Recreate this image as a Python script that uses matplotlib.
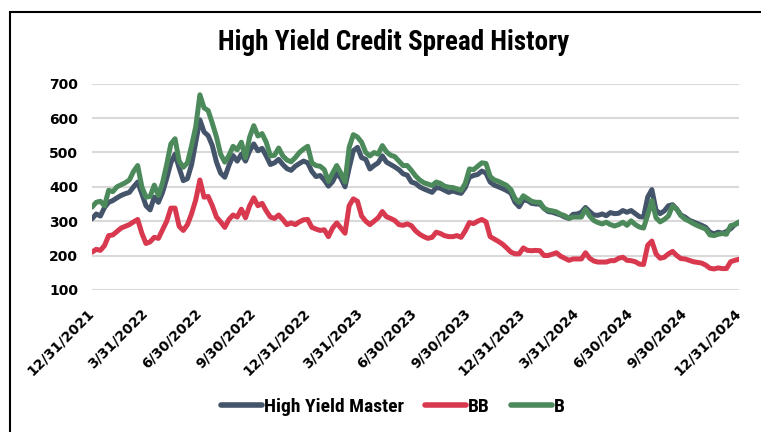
import numpy as np
import pandas as pd
import matplotlib
matplotlib.use("Agg")
import matplotlib.pyplot as plt
from matplotlib.patches import Rectangle

# weekly spread levels (bps), 12/31/2021 -> 12/31/2024
hy_master = [
    307, 321, 315, 340, 355, 360, 368, 375, 380, 384, 400, 414, 380,
    345, 333, 370, 355, 384, 425, 470, 495, 455, 418, 424, 465, 530,
    595, 560, 549, 520, 472, 440, 428, 462, 491, 475, 495, 475, 505,
    525, 505, 512, 490, 465, 470, 480, 465, 453, 448, 460, 468, 475,
    470, 445, 430, 433, 420, 402, 415, 440, 425, 400, 455, 505, 515,
    485, 480, 452, 462, 470, 490, 472, 465, 458, 450, 438, 434, 414,
    410, 400, 394, 389, 384, 398, 396, 390, 384, 388, 384, 381, 398,
    428, 433, 436, 446, 440, 414, 405, 400, 395, 389, 382, 355, 342,
    362, 360, 352, 350, 350, 337, 328, 326, 322, 318, 312, 308, 320,
    321, 326, 340, 328, 318, 317, 321, 316, 325, 322, 323, 331, 326,
    331, 322, 313, 312, 370, 392, 332, 322, 330, 345, 348, 335, 318,
    312, 303, 298, 293, 288, 282, 268, 263, 268, 265, 270, 278, 290,
    296,
]
bb = [
    210, 218, 215, 229, 258, 260, 270, 280, 285, 290, 298, 305, 265,
    235, 240, 253, 250, 275, 300, 338, 338, 285, 273, 290, 322, 362,
    420, 370, 372, 345, 312, 298, 282, 305, 318, 312, 335, 310, 345,
    368, 345, 352, 330, 312, 308, 318, 305, 290, 295, 290, 298, 304,
    305, 282, 277, 273, 275, 255, 280, 295, 280, 265, 345, 365, 358,
    315, 300, 290, 300, 310, 328, 313, 308, 302, 290, 288, 292, 287,
    272, 262, 255, 250, 253, 268, 264, 258, 255, 255, 258, 253, 272,
    296, 293, 300, 305, 298, 255, 248, 241, 233, 222, 210, 205, 205,
    222, 215, 214, 215, 214, 200, 200, 204, 208, 198, 192, 186, 190,
    190, 190, 208, 192, 184, 181, 181, 181, 185, 185, 192, 195, 186,
    185, 182, 175, 174, 230, 242, 205, 192, 195, 205, 212, 200, 191,
    190, 186, 182, 180, 178, 172, 163, 161, 164, 162, 162, 182, 186,
    189,
]
single_b = [
    341, 355, 358, 345, 390, 386, 400, 406, 412, 420, 445, 462, 400,
    370, 372, 405, 375, 412, 465, 525, 540, 475, 457, 470, 520, 575,
    668, 630, 622, 585, 545, 495, 472, 491, 518, 508, 530, 485, 545,
    578, 548, 555, 530, 490, 492, 513, 490, 478, 473, 485, 500, 510,
    518, 470, 462, 460, 450, 416, 440, 462, 440, 414, 515, 552, 545,
    530, 500, 490, 500, 495, 520, 502, 492, 488, 475, 462, 462, 448,
    432, 420, 412, 408, 404, 414, 410, 402, 399, 398, 394, 390, 410,
    452, 450, 460, 470, 468, 430, 420, 416, 410, 404, 392, 366, 355,
    374, 366, 358, 355, 355, 338, 332, 330, 327, 320, 316, 308, 312,
    312, 312, 335, 315, 302, 296, 292, 297, 290, 286, 290, 297, 288,
    301, 290, 283, 280, 318, 360, 310, 298, 305, 315, 345, 335, 316,
    306, 300, 293, 287, 282, 277, 260, 258, 262, 264, 262, 287, 290,
    298,
]
series_names = ["High Yield Master", "BB", "B"]
tick_labels = ["12/31/2021", "3/31/2022", "6/30/2022", "9/30/2022",
               "12/31/2022", "3/31/2023", "6/30/2023", "9/30/2023",
               "12/31/2023", "3/31/2024", "6/30/2024", "9/30/2024",
               "12/31/2024"]

dates = pd.date_range("2021-12-31", "2024-12-31", periods=len(hy_master))
tick_dates = pd.to_datetime(tick_labels, format="%m/%d/%Y")

colors = ["#44546A", "#D8394F", "#4C8A5C"]
narrow = ["Roboto Condensed", "Liberation Sans Narrow", "Roboto", "DejaVu Sans"]

fig = plt.figure(figsize=(7.61, 4.32), dpi=100)
ax = fig.add_axes([0.121, 0.329, 0.850, 0.477])

for vals, name, c in zip([hy_master, bb, single_b], series_names, colors):
    ax.plot(dates, vals, color=c, lw=3.6, label=name,
            solid_joinstyle="round", solid_capstyle="round")

ax.set_ylim(100, 700)
ax.set_yticks(range(100, 701, 100))
ax.set_xlim(tick_dates[0], tick_dates[-1])
ax.set_xticks(tick_dates)
ax.set_xticklabels(tick_labels, rotation=45, ha="right", va="center",
                   rotation_mode="anchor", fontweight="bold", fontsize=10)
for lab in ax.get_yticklabels():
    lab.set_fontweight("bold")
    lab.set_fontsize(10)
ax.tick_params(length=0, pad=10)
ax.tick_params(axis="x", pad=15)
ax.grid(axis="y", color="#D9D9D9", lw=1.5)
ax.set_axisbelow(True)
for s in ax.spines.values():
    s.set_visible(False)

fig.text(0.517, 0.902, "High Yield Credit Spread History", ha="center",
         va="center", fontsize=19.5, fontweight="bold", family=narrow)

leg = fig.legend(loc="center", bbox_to_anchor=(0.516, 0.058), ncol=3,
                 frameon=False, handlelength=2.1, columnspacing=1.1,
                 handletextpad=0.1, prop={"family": narrow, "weight": "bold",
                                          "size": 14})
for h in leg.get_lines():
    h.set_linewidth(4)

# outer frame, only left and top edges fall inside the image
fig.patches.append(Rectangle((0.0135, -0.1), 1.2, 1.072, fill=False,
                             lw=1.5, edgecolor="black",
                             transform=fig.transFigure, clip_on=False))

fig.savefig("out.png", dpi=100)
